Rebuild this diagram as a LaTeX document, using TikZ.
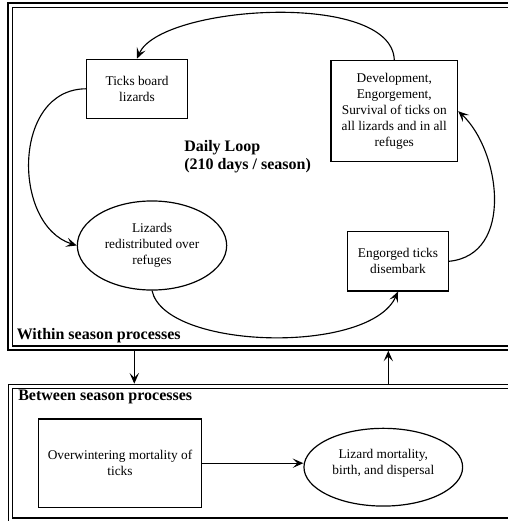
\documentclass[tikz,border=0pt]{standalone}
\usepackage{fontspec}
\setmainfont{Liberation Serif}
\usetikzlibrary{arrows.meta, shapes.geometric}

\tikzset{
  procbox/.style={draw, line width=0.9pt, align=center, inner sep=2pt},
  procoval/.style={draw, ellipse, line width=0.9pt, inner sep=0pt},
  flow/.style={-{Stealth[length=8pt, width=7pt, inset=3.5pt]}, line width=0.85pt},
  seasonframe/.style={draw, double, double distance=2.2pt, line width=0.9pt,
                      outer sep=2pt, inner sep=0pt, anchor=north west},
  headline/.style={font=\fontsize{12}{13.5}\selectfont\bfseries, inner sep=0pt, align=left},
}

\begin{document}
\begin{tikzpicture}[x=0.75pt, y=-0.75pt]
\useasboundingbox (0,0) rectangle (507,521);

% season frames
\node[seasonframe, minimum width=382.5pt, minimum height=257.2pt] (within) at (7.4,2.4) {};
\node[seasonframe, minimum width=382.5pt, minimum height=100.3pt] (between) at (7.7,383.7) {};

% daily loop
\node[procbox, minimum width=75.5pt, minimum height=44.3pt] (board) at (137,88.8) {Ticks board\\lizards};
\node[procbox, minimum width=95pt, minimum height=75.8pt] (devel) at (394.3,111.2)
  {Development,\\Engorgement,\\Survival of ticks on\\all lizards and in all\\refuges};
\node[procoval, minimum width=112pt, minimum height=66.8pt,
  label={[align=center]center:{Lizards\\redistributed over\\refuges}}] (lizards) at (152,245.5) {};
\node[procbox, minimum width=75.5pt, minimum height=44.5pt] (engorged) at (398,261.3) {Engorged ticks\\disembark};
\node[headline, anchor=west] (loop) at (184,156.7) {Daily Loop\\(210 days / season)};
\node[headline, anchor=west] (withinlbl) at (16.5,336) {Within season processes};

% between seasons
\node[headline, anchor=west] (betweenlbl) at (18,396.7) {Between season processes};
\node[procbox, minimum width=122.5pt, minimum height=66.2pt] (winter) at (120,463.2) {Overwintering mortality of\\ticks};
\node[procoval, minimum width=119pt, minimum height=58.3pt,
  label={[align=center, yshift=2.6pt]center:{Lizard mortality,\\birth, and dispersal}}] (dispersal) at (383.3,467.2) {};

% connectors
\draw[flow] (devel.north) .. controls (392,-10) and (160,5) .. (board.north);
\draw[flow] (board.west) .. controls (12,89) and (12,225) .. (lizards.west);
\draw[flow] (lizards.south) .. controls (165,350) and (370,355) .. (engorged.south);
\draw[flow] (engorged.east) .. controls (515,255) and (500,150) .. (devel.east);
\coordinate (down) at (134.3,0);
\coordinate (up) at (388.3,0);
\draw[flow] (within.south -| down) -- (between.north -| down);
\draw[flow] (between.north -| up) -- (within.south -| up);
\draw[flow] (winter.east) -- (winter.east -| dispersal.west);
\end{tikzpicture}
\end{document}
